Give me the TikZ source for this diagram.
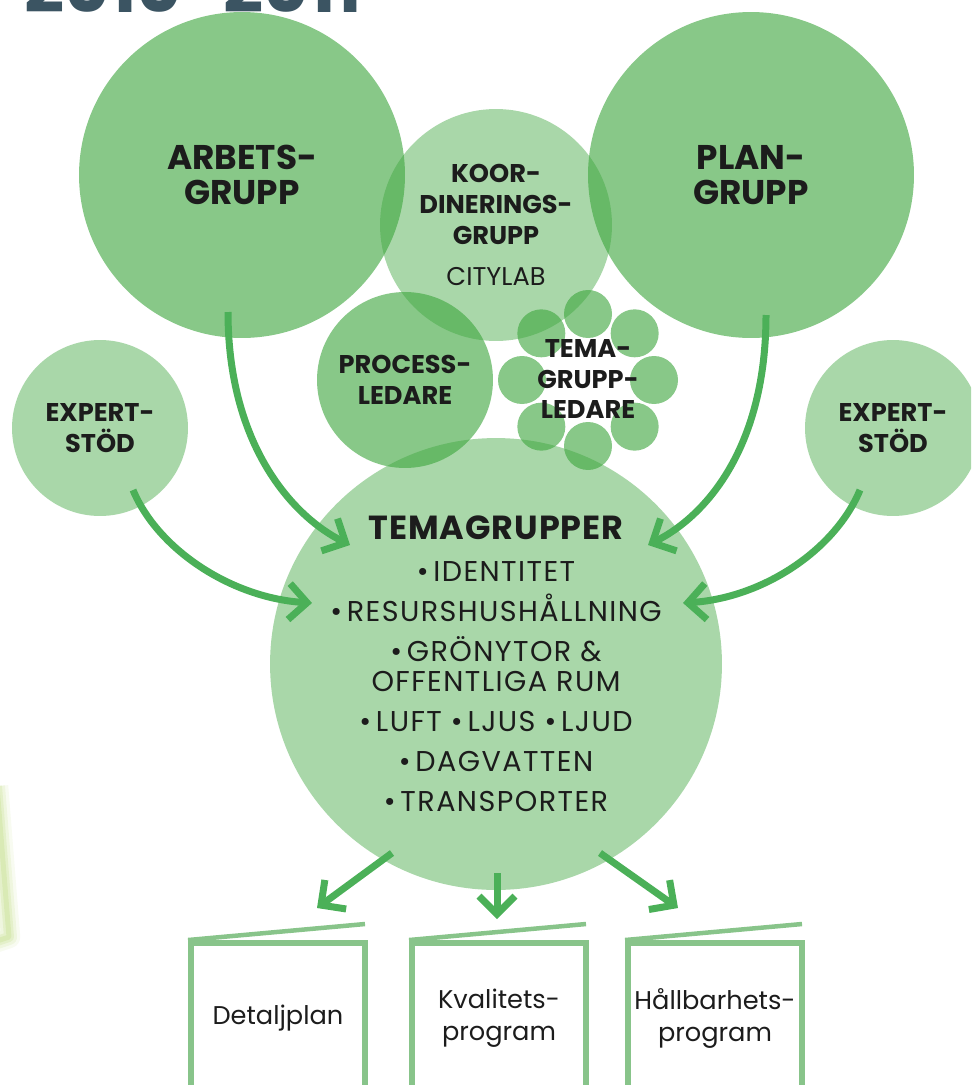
\documentclass[tikz,border=0pt]{standalone}
\usepackage{fontspec}
\setmainfont{Poppins}
\usepackage{tikz}
\usetikzlibrary{arrows.meta}
\usetikzlibrary{positioning}
\usetikzlibrary{calc}
\definecolor{leaf}{RGB}{60,165,60}
\definecolor{arrowgreen}{RGB}{75,176,88}
\definecolor{sheetgreen}{RGB}{136,196,138}
\definecolor{ink}{RGB}{28,28,28}
\definecolor{slate}{RGB}{59,84,98}
\definecolor{glowgreen}{RGB}{196,222,140}
\tikzset{
    blob/.style={circle, fill=leaf, fill opacity=0.61, text opacity=1, inner sep=0pt, align=center, text=ink},
    paleblob/.style={blob, fill opacity=0.44},
    bighead/.style={font=\bfseries\fontsize{19.5}{20}\selectfont},
    smallhead/.style={font=\bfseries\fontsize{14.6}{17.6}\selectfont},
    listfont/.style={font=\fontsize{16.3}{17.1}\selectfont\addfontfeature{LetterSpace=5}},
    flow/.style={draw=arrowgreen, line width=0.14cm, -{Straight Barb[length=0.36cm,width=0.72cm]}},
    sheet/.style={rectangle, draw=sheetgreen, line width=0.12cm, minimum width=3.48cm, minimum height=3cm,
        inner sep=0pt, align=center, text=ink, font=\fontsize{14.6}{18.2}\selectfont},
    flap/.style={draw=sheetgreen, line width=0.09cm},
    glow/.style={draw=glowgreen, line join=round},
}

\begin{document}
\begin{tikzpicture}[x=0.02cm, y=-0.02cm]
	\useasboundingbox (0,0) rectangle (971,1085);
	\clip (0,0) rectangle (971,1085);
	% cut-off title and page edge
	\node[anchor=base west, inner sep=0pt, text=slate, font=\bfseries\fontsize{40}{40}\selectfont] (title) at (24,12) {2010-2011};
	\foreach \w/\o in {0.45/0.12,0.32/0.18,0.2/0.25,0.1/0.35}
		\draw[glow, line width=\w cm, opacity=\o] (-3,786) -- (9,937) -- (-6,942);
	% circles
	\node[paleblob, listfont, minimum size=9.04cm] (tema) at (496,664) {%
		{\bfseries\fontsize{19}{20}\selectfont\addfontfeature{LetterSpace=3}TEMAGRUPPER}\\[6.8pt]
		•\,IDENTITET\\[5.7pt]
		•\,RESURSHUSHÅLLNING\\[5.7pt]
		•\,GRÖNYTOR \&\\
		OFFENTLIGA RUM\\[5.7pt]
		•\,LUFT •\,LJUS •\,LJUD\\[5.7pt]
		•\,DAGVATTEN\\[5.7pt]
		•\,TRANSPORTER};
	\node[paleblob, smallhead, minimum size=3.52cm] (expertL) at (100,428) {EXPERT-\\STÖD};
	\node[paleblob, smallhead, minimum size=3.52cm] (expertR) at (893,428) {EXPERT-\\STÖD};
	\node[blob, bighead, minimum size=6.52cm] (arbets) at (242,175) {ARBETS-\\GRUPP};
	\node[blob, bighead, minimum size=6.52cm] (plan) at (751,175) {PLAN-\\GRUPP};
	\node[paleblob, smallhead, minimum size=4.64cm] (koord) at (496,225) {KOOR-\\DINERINGS-\\GRUPP\\[6pt]{\mdseries CITYLAB}};
	\node[blob, smallhead, minimum size=3.52cm] (process) at (405,380) {PROCESS-\\LEDARE};
	\foreach \a in {0,45,...,315}
		\node[blob, minimum size=0.96cm] (petal\a) at ($(588,380)+(\a:66)$) {};
	\node[smallhead, align=center, text=ink, inner sep=0pt] (temaledare) at (588,379) {TEMA-\\GRUPP-\\LEDARE};
	% documents
	\node[sheet] (detalj) at (278,1018) {Detaljplan};
	\node[sheet] (kvalitet) at (499,1018) {Kvalitets-\\program};
	\node[sheet] (hallbar) at (715,1018) {Hållbarhets-\\program};
	\foreach \d in {detalj,kvalitet,hallbar}
		\draw[flap] (\d.north west) -- ++(177,-16);
	% arrow ends
	\coordinate (arbetsfoot) at ($(arbets.center)+(-14,137)$);
	\coordinate (planfoot) at ($(plan.center)+(15,140)$);
	\coordinate (expertLfoot) at ($(expertL.center)+(33,62)$);
	\coordinate (expertRfoot) at ($(expertR.center)+(-33,62)$);
	\coordinate (temaNW) at ($(tema.center)+(-146,-119)$);
	\coordinate (temaNE) at ($(tema.center)+(152,-119)$);
	\coordinate (temaW) at ($(tema.center)+(-184,-61)$);
	\coordinate (temaE) at ($(tema.center)+(187,-61)$);
	\coordinate (temaSW) at ($(tema.center)+(-104,189)$);
	\coordinate (temaS) at ($(tema.center)+(1,209)$);
	\coordinate (temaSE) at ($(tema.center)+(104,189)$);
	\coordinate (detaljtop) at ($(detalj.north)+(39,-32)$);
	\coordinate (kvalitettop) at ($(kvalitet.north)+(-2,-21)$);
	\coordinate (hallbartop) at ($(hallbar.north)+(-37,-32)$);
	% arrows
	\draw[flow] (arbetsfoot) .. controls +(0,130) and +(-60,-30) .. (temaNW);
	\draw[flow] (planfoot) .. controls +(0,130) and +(60,-30) .. (temaNE);
	\draw[flow] (expertLfoot) .. controls +(25,60) and +(-80,-5) .. (temaW);
	\draw[flow] (expertRfoot) .. controls +(-25,60) and +(80,-5) .. (temaE);
	\draw[flow] (temaSW) -- (detaljtop);
	\draw[flow] (temaS) -- (kvalitettop);
	\draw[flow] (temaSE) -- (hallbartop);
\end{tikzpicture}
\end{document}
